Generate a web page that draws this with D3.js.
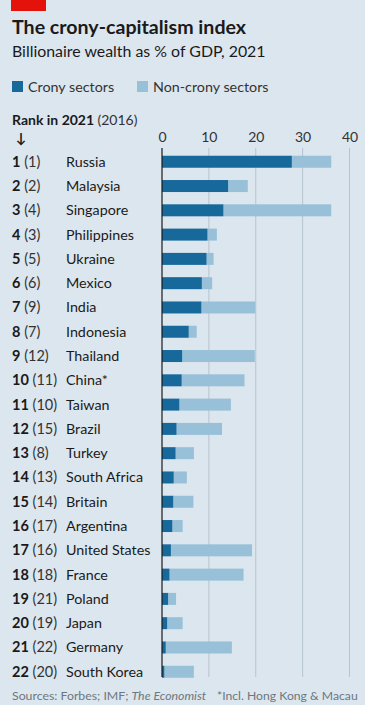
<!DOCTYPE html>
<html><head><meta charset="utf-8">
<script src="https://cdn.jsdelivr.net/npm/d3@7"></script>
<style>
html,body{margin:0;padding:0;background:#dce6ee;}
svg{display:block;}
</style></head>
<body>
<script>
const countries = ["Russia","Malaysia","Singapore","Philippines","Ukraine","Mexico","India","Indonesia","Thailand","China*","Taiwan","Brazil","Turkey","South Africa","Britain","Argentina","United States","France","Poland","Japan","Germany","South Korea"];
const rank2021 = [1,2,3,4,5,6,7,8,9,10,11,12,13,14,15,16,17,18,19,20,21,22];
const rank2016 = [1,2,4,3,5,6,9,7,12,11,10,15,8,13,14,17,16,18,21,19,22,20];
const crony =    [27.7,14.1,13.1,9.7,9.5,8.5,8.4,5.7,4.3,4.2,3.7,3.1,2.9,2.5,2.4,2.2,1.9,1.6,1.3,1.1,0.8,0.5];
const nonCrony = [8.4,4.2,23.0,2.0,1.5,2.2,11.5,1.7,15.5,13.4,11.0,9.7,3.9,2.8,4.3,2.2,17.3,15.8,1.7,3.3,14.1,6.3];
const xTicks = [0,10,20,30,40];

const W = 365, H = 705;
const FONT = "Lato, 'Open Sans', sans-serif";
const C_CRONY = "#17689b", C_NON = "#98c0d8";

const svg = d3.select("body").append("svg").attr("width", W).attr("height", H)
  .style("font-family", FONT);
svg.append("rect").attr("width", W).attr("height", H).attr("fill", "#dce6ee");
svg.append("rect").attr("x", 11).attr("y", 0).attr("width", 35).attr("height", 11).attr("fill", "#e3120b");

svg.append("text").attr("x", 12).attr("y", 34).attr("font-size", 19.6).attr("font-weight", 700)
  .attr("fill", "#1a1a1a").text("The crony-capitalism index");
svg.append("text").attr("x", 12).attr("y", 57).attr("font-size", 15.9)
  .attr("fill", "#1a1a1a").text("Billionaire wealth as % of GDP, 2021");

// legend
const leg = [{k:"Crony sectors", c:C_CRONY, x:12},{k:"Non-crony sectors", c:C_NON, x:137}];
leg.forEach(l=>{
  svg.append("rect").attr("x", l.x).attr("y", 81).attr("width", 11).attr("height", 11).attr("fill", l.c);
  svg.append("text").attr("x", l.x+16).attr("y", 92).attr("font-size", 14.3).attr("fill", "#333").text(l.k);
});

const rh = svg.append("text").attr("x", 12).attr("y", 125).attr("font-size", 14).attr("fill", "#1a1a1a");
rh.append("tspan").attr("font-weight", 700).text("Rank in 2021 ");
rh.append("tspan").attr("fill", "#333").text("(2016)");
svg.append("text").attr("x", 21).attr("y", 143).attr("font-size", 14).attr("text-anchor","middle").attr("fill","#1a1a1a").attr("font-weight",700).text("↓");

const x = d3.scaleLinear().domain([0,40]).range([162, 349.5]);
const y = d3.scaleBand().domain(countries).range([149.6, 683.9]).paddingInner(0.5).paddingOuter(0.25);

// gridlines
svg.append("g").selectAll("line").data(xTicks.slice(1)).join("line")
  .attr("x1", d=>x(d)).attr("x2", d=>x(d)).attr("y1", 148).attr("y2", 677)
  .attr("stroke", "#b5c4cf").attr("stroke-width", 1);

// axis labels
const ax = svg.append("g").attr("transform", "translate(0,142)")
  .call(d3.axisTop(x).tickValues(xTicks).tickSize(0).tickPadding(0));
ax.select(".domain").remove();
ax.selectAll("text").attr("font-size", 14).attr("font-family", FONT).attr("fill", "#333").attr("dy", 0);

const rows = countries.map((c,i)=>({c, r:rank2021[i], p:rank2016[i], a:crony[i], b:nonCrony[i]}));
const bh = 12;
const g = svg.append("g");
g.selectAll("rect.non").data(rows).join("rect").attr("class","non")
  .attr("x", d=>x(d.a)).attr("width", d=>x(d.a+d.b)-x(d.a))
  .attr("y", d=>y(d.c)+y.bandwidth()/2-bh/2).attr("height", bh).attr("fill", C_NON);
g.selectAll("rect.cr").data(rows).join("rect").attr("class","cr")
  .attr("x", x(0)).attr("width", d=>x(d.a)-x(0))
  .attr("y", d=>y(d.c)+y.bandwidth()/2-bh/2).attr("height", bh).attr("fill", C_CRONY);

// zero line
svg.append("line").attr("x1", x(0)).attr("x2", x(0)).attr("y1", 148).attr("y2", 677)
  .attr("stroke", "#1a1a1a").attr("stroke-width", 1.2);

// row labels
const lab = svg.append("g").selectAll("g").data(rows).join("g")
  .attr("transform", d=>`translate(0,${y(d.c)+y.bandwidth()/2+5})`);
const rt = lab.append("text").attr("x", 12).attr("font-size", 14.5).attr("fill", "#1a1a1a");
rt.append("tspan").attr("font-weight", 700).text(d=>d.r);
rt.append("tspan").attr("fill", "#333").text(d=>" ("+d.p+")");
lab.append("text").attr("x", 66).attr("font-size", 14.3).attr("fill", "#1a1a1a").text(d=>d.c);

// footer
const f = svg.append("text").attr("x", 12).attr("y", 700).attr("font-size", 12.3).attr("fill", "#6d7780");
f.append("tspan").text("Sources: Forbes; IMF; ");
f.append("tspan").attr("font-style", "italic").text("The Economist");
svg.append("text").attr("x", 217).attr("y", 700).attr("font-size", 12.2).attr("fill", "#6d7780").text("*Incl. Hong Kong & Macau");
</script>
</body></html>
